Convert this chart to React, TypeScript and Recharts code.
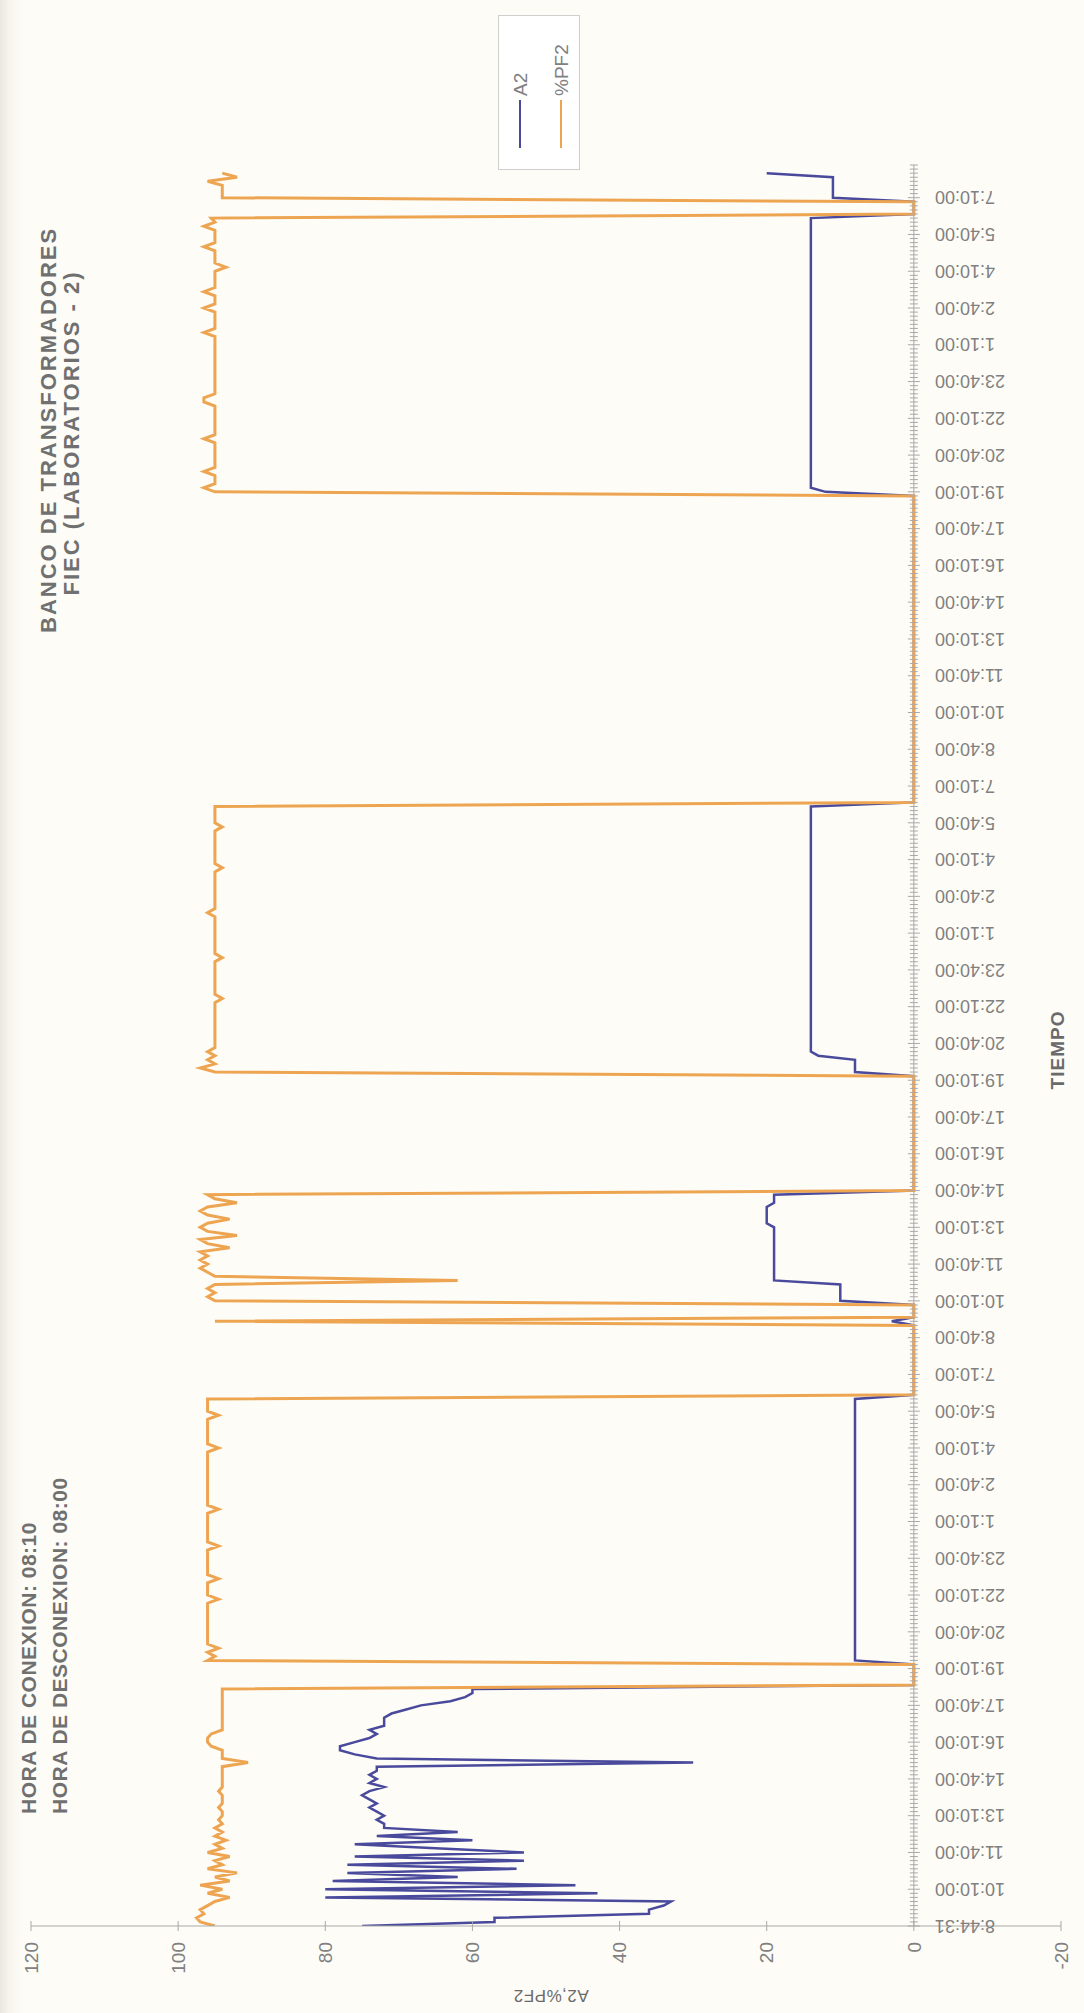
import React from 'react'
import { LineChart, Line, XAxis, YAxis, ReferenceLine, Legend } from 'recharts'

// [sample index, value]; one sample every 10 min (index 0 = 8:44:31)
const A2: [number, number][] = [
  [0, 75], [1, 57], [2, 57], [3, 36], [4, 36], [5, 34], [6, 33], [7, 80], [8, 43], [9, 80],
  [10, 46], [11, 79], [12, 62], [13, 77], [14, 54], [15, 77], [16, 53], [17, 76], [18, 53], [19, 65],
  [20, 76], [21, 60], [22, 73], [23, 62], [24, 72], [25, 72], [26, 73], [27, 72], [28, 73], [29, 74],
  [30, 73], [31, 74], [32, 75], [33, 74], [34, 72], [35, 74], [36, 73], [37, 74], [38, 73], [39, 73],
  [40, 30], [41, 73], [42, 76], [43, 78], [44, 78], [45, 76], [46, 74], [47, 73], [48, 74], [49, 72],
  [50, 72], [51, 72], [52, 71], [53, 69], [54, 67], [55, 63], [56, 61], [57, 60], [58, 60],
  [59, 0], [64, 0], [65, 8], [129, 8], [130, 0],
  [147, 0], [148, 3], [149, 0], [152, 0], [153, 10], [157, 10], [158, 19], [171, 19], [172, 20],
  [176, 20], [177, 19], [179, 19], [180, 0],
  [208, 0], [209, 8], [212, 8], [213, 13], [214, 14], [274, 14], [275, 0],
  [350, 0], [351, 12], [352, 14], [418, 14], [419, 0], [422, 0], [423, 11], [428, 11], [429, 20],
]

const PF2: [number, number][] = [
  [0, 95], [1, 97], [2, 97.5], [3, 96.5], [4, 97], [5, 96], [6, 95], [7, 93], [8, 96], [9, 94],
  [10, 97], [11, 93], [12, 95], [13, 92], [14, 96], [15, 94], [16, 95], [17, 93], [18, 96], [19, 94],
  [20, 95], [21, 93.5], [22, 95], [23, 94], [24, 95], [25, 94], [26, 94.5], [27, 94], [28, 94], [29, 94.5],
  [30, 94], [31, 94], [32, 94], [33, 94.5], [34, 94], [35, 94], [36, 94], [37, 94], [38, 94], [39, 94],
  [40, 90.5], [41, 94], [42, 94], [43, 94], [44, 95.5], [45, 96], [46, 96], [47, 95.5], [48, 94], [49, 94],
  [50, 94], [51, 94], [52, 94], [53, 94], [54, 94], [55, 94], [56, 94], [57, 94], [58, 94],
  [59, 0], [64, 0], [65, 96], [66, 95], [67, 96], [68, 94.5], [69, 96], [79, 96], [80, 94.5], [81, 96],
  [84, 96], [85, 94.5], [86, 96], [92, 96], [93, 94.5], [94, 96], [101, 96], [102, 94.5], [103, 96],
  [116, 96], [117, 94.5], [118, 96], [124, 96], [125, 94.5], [126, 96], [129, 96], [130, 0],
  [147, 0], [148, 95], [149, 0], [152, 0], [153, 95], [154, 96], [155, 95], [156, 96], [157, 95],
  [158, 62], [159, 95], [160, 96], [161, 97], [162, 96], [163, 97], [164, 96], [165, 97], [166, 93],
  [167, 96], [168, 97], [169, 92], [170, 96], [171, 97], [172, 96], [173, 93], [174, 96], [175, 97],
  [176, 96], [177, 92], [178, 95], [179, 96], [180, 0],
  [208, 0], [209, 95], [210, 97], [211, 95], [212, 96], [213, 95], [214, 96], [215, 95], [226, 95],
  [227, 94], [228, 95], [236, 95], [237, 94], [238, 95], [247, 95], [248, 96], [249, 95], [258, 95],
  [259, 94], [260, 95], [268, 95], [269, 94], [270, 95], [274, 95], [275, 0],
  [350, 0], [351, 95], [352, 96.5], [353, 95], [355, 95], [356, 96.5], [357, 95], [363, 95], [364, 96.5],
  [365, 95], [372, 95], [373, 96.5], [374, 96.5], [375, 95], [389, 95], [390, 96.5], [391, 95], [395, 95],
  [396, 96.5], [397, 95], [399, 95], [400, 96.5], [401, 95], [405, 95], [406, 93.5], [407, 95], [410, 95],
  [411, 96.5], [412, 95], [415, 95], [416, 96.5], [417, 95], [418, 95.5], [419, 0], [422, 0], [423, 94],
  [426, 94], [427, 96], [428, 92], [429, 94],
]

// one label every 9 samples (1 h 30 min)
const TIME_LABELS = [
  '8:44:31', '10:10:00', '11:40:00', '13:10:00', '14:40:00', '16:10:00', '17:40:00', '19:10:00',
  '20:40:00', '22:10:00', '23:40:00', '1:10:00', '2:40:00', '4:10:00', '5:40:00', '7:10:00',
  '8:40:00', '10:10:00', '11:40:00', '13:10:00', '14:40:00', '16:10:00', '17:40:00', '19:10:00',
  '20:40:00', '22:10:00', '23:40:00', '1:10:00', '2:40:00', '4:10:00', '5:40:00', '7:10:00',
  '8:40:00', '10:10:00', '11:40:00', '13:10:00', '14:40:00', '16:10:00', '17:40:00', '19:10:00',
  '20:40:00', '22:10:00', '23:40:00', '1:10:00', '2:40:00', '4:10:00', '5:40:00', '7:10:00',
]
const VALUE_TICKS = [-20, 0, 20, 40, 60, 80, 100, 120]
const SERIES_ORDER = ['A2', '%PF2']

// chart is drawn landscape, then the whole sheet is turned a quarter (scanned page)
const W = 2013
const H = 1084
const PLOT_TOP = 31
const PLOT_BOTTOM = 1061
const AXIS_X = 87
const X_MAX = 431
const STEP = 9
const ZERO_Y = PLOT_TOP + ((PLOT_BOTTOM - PLOT_TOP) * 120) / 140

const GREY = '#808080'
const AXIS = '#a9a9a9'
const BLUE = '#4a4a9c'
const ORANGE = '#eda552'
const FONT = '"Liberation Sans", Arial, sans-serif'

const toRows = (pts: [number, number][]) => pts.map(([i, v]) => ({ i, v }))
const a2Rows = toRows(A2)
const pf2Rows = toRows(PF2)
const xTicks = Array.from({ length: X_MAX + 1 }, (_, i) => i)

function TimeTick(props: any) {
  const { x, payload } = props
  const k = payload.value / STEP
  const label = Number.isInteger(k) ? TIME_LABELS[k] : undefined
  const len = label ? 6 : 4
  const ty = ZERO_Y + 21
  return (
    <g>
      <line x1={x} x2={x} y1={ZERO_Y - len} y2={ZERO_Y + len} stroke={AXIS} strokeWidth={1} />
      {label && (
        <text
          x={x}
          y={ty}
          dy="0.35em"
          transform={`rotate(-90 ${x} ${ty})`}
          textAnchor="end"
          fontSize={18}
          fontFamily={FONT}
          fill={GREY}
        >
          {label}
        </text>
      )}
    </g>
  )
}

function ValueTick(props: any) {
  const { y, payload } = props
  return (
    <g>
      <line x1={AXIS_X - 5} x2={AXIS_X + 5} y1={y} y2={y} stroke={AXIS} />
      <text x={AXIS_X - 16} y={y} dy="0.35em" textAnchor="end" fontSize={19} fontFamily={FONT} fill={GREY}>
        {payload.value}
      </text>
    </g>
  )
}

function LegendBox(props: any) {
  const items = [...(props.payload || [])].sort(
    (a: any, b: any) => SERIES_ORDER.indexOf(a.value) - SERIES_ORDER.indexOf(b.value),
  )
  return (
    <div
      style={{
        position: 'relative',
        width: 155,
        height: 82,
        boxSizing: 'border-box',
        border: '1px solid #cfcfcf',
        background: '#fff',
      }}
    >
      {items.map((p: any, idx: number) => (
        <div
          key={p.value}
          style={{
            position: 'absolute',
            left: 21,
            top: 10 + idx * 41,
            height: 22,
            display: 'flex',
            alignItems: 'center',
          }}
        >
          <div style={{ width: 48, height: 2.5, background: p.color }} />
          <span style={{ marginLeft: 4, fontSize: 19, lineHeight: 1, color: GREY, fontFamily: FONT }}>
            {p.value}
          </span>
        </div>
      ))}
    </div>
  )
}

const titleStyle: React.CSSProperties = {
  position: 'absolute',
  fontFamily: FONT,
  fontWeight: 700,
  fontSize: 22,
  letterSpacing: 2,
  lineHeight: 1,
  color: '#707070',
  whiteSpace: 'nowrap',
}

const horaStyle: React.CSSProperties = { ...titleStyle, fontSize: 21, letterSpacing: 0.5 }

export default function App() {
  return (
    <div
      style={{
        position: 'absolute',
        left: 0,
        top: 0,
        width: H,
        height: W,
        overflow: 'hidden',
        background: 'linear-gradient(to right, #e9e7df 0px, #f7f5ee 10px, #fdfcf7 24px)',
      }}
    >
      <div
        style={{
          position: 'absolute',
          left: 0,
          top: 0,
          width: W,
          height: H,
          transformOrigin: '0 0',
          transform: `translate(0px, ${W}px) rotate(-90deg)`,
        }}
      >
        <div style={{ ...horaStyle, left: 199, top: 18 }}>HORA DE CONEXION: 08:10</div>
        <div style={{ ...horaStyle, left: 199, top: 49 }}>HORA DE DESCONEXION: 08:00</div>
        <div style={{ ...titleStyle, left: 1380, width: 400, textAlign: 'center', top: 38 }}>
          BANCO DE TRANSFORMADORES
        </div>
        <div style={{ ...titleStyle, left: 1380, width: 400, textAlign: 'center', top: 61 }}>
          FIEC (LABORATORIOS - 2)
        </div>
        <div
          style={{
            ...titleStyle,
            fontSize: 17,
            fontWeight: 400,
            letterSpacing: 0.5,
            color: '#6a6a6a',
            left: 18,
            top: 551,
            transform: 'translate(-50%, -50%) rotate(-90deg)',
          }}
        >
          A2,%PF2
        </div>
        <div
          style={{
            ...titleStyle,
            fontSize: 19,
            letterSpacing: 1,
            color: '#6a6a6a',
            left: 963,
            top: 1057,
            transform: 'translate(-50%, -50%)',
          }}
        >
          TIEMPO
        </div>

        <LineChart width={W} height={H} margin={{ top: PLOT_TOP, right: W - AXIS_X - 1761, bottom: 22, left: 27 }}>
          <XAxis
            dataKey="i"
            type="number"
            domain={[0, X_MAX]}
            ticks={xTicks}
            interval={0}
            height={1}
            axisLine={false}
            tickLine={false}
            tick={TimeTick}
            allowDataOverflow
          />
          <YAxis
            type="number"
            domain={[-20, 120]}
            ticks={VALUE_TICKS}
            width={60}
            axisLine={{ stroke: AXIS }}
            tickLine={false}
            tick={ValueTick}
          />
          <ReferenceLine y={0} stroke={AXIS} strokeWidth={1} />
          <Legend
            layout="horizontal"
            align="center"
            verticalAlign="middle"
            wrapperStyle={{ left: 1843, top: 498, width: 155, height: 82 }}
            content={LegendBox}
          />
          <Line
            data={a2Rows}
            dataKey="v"
            name="A2"
            type="linear"
            stroke={BLUE}
            strokeWidth={2.5}
            dot={false}
            isAnimationActive={false}
          />
          <Line
            data={pf2Rows}
            dataKey="v"
            name="%PF2"
            type="linear"
            stroke={ORANGE}
            strokeWidth={3}
            dot={false}
            isAnimationActive={false}
          />
        </LineChart>
      </div>
    </div>
  )
}
